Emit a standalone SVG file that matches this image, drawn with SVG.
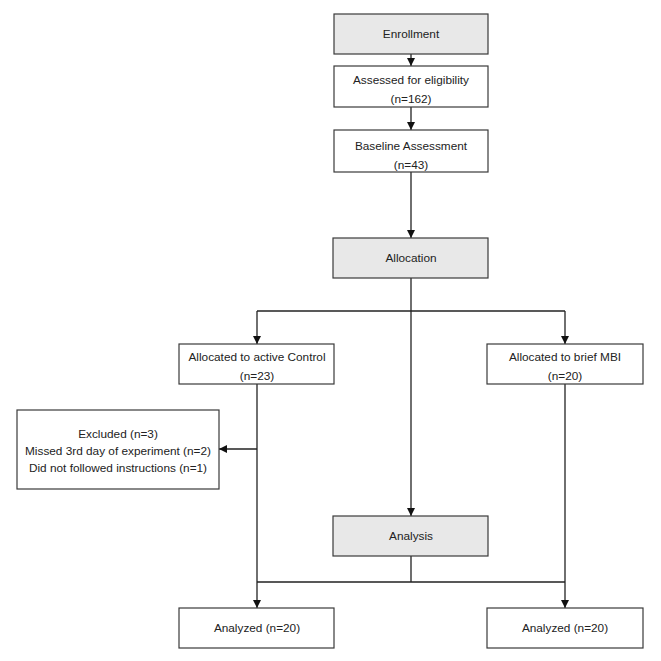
<svg xmlns="http://www.w3.org/2000/svg" width="661" height="661" viewBox="0 0 661 661">
<style>
.box{fill:#fff;stroke:#3a3a3a;stroke-width:1.2}
.g{fill:#e8e8e8}
text{font-family:"Liberation Sans",Arial,sans-serif;font-size:11.8px;fill:#222;text-anchor:middle}
.c{stroke:#222;stroke-width:1.3;fill:none}
</style>
<defs>
<marker id="a" viewBox="0 0 10 10" refX="10" refY="5" markerWidth="8" markerHeight="8" markerUnits="userSpaceOnUse" orient="auto"><path d="M0,0L10,5L0,10z" fill="#111"/></marker>
</defs>
<rect width="661" height="661" fill="#fff"/>
<g id="connectors">
<path class="c" d="M411,54V66" marker-end="url(#a)"/>
<path class="c" d="M411,107V130" marker-end="url(#a)"/>
<path class="c" d="M411,172V238" marker-end="url(#a)"/>
<path class="c" d="M411,278V516" marker-end="url(#a)"/>
<path class="c" d="M257,311H565"/>
<path class="c" d="M257,311V344" marker-end="url(#a)"/>
<path class="c" d="M565,311V344" marker-end="url(#a)"/>
<path class="c" d="M257,384V608" marker-end="url(#a)"/>
<path class="c" d="M565,384V608" marker-end="url(#a)"/>
<path class="c" d="M257,449H219" marker-end="url(#a)"/>
<path class="c" d="M411,556V582M257,582H565"/>
</g>
<g id="enrollment"><rect class="box g" x="334" y="14" width="154" height="40"/><text x="411" y="38">Enrollment</text></g>
<g id="assessed"><rect class="box" x="334" y="66" width="154" height="41"/><text x="411" y="84">Assessed for eligibility</text><text x="411" y="103">(n=162)</text></g>
<g id="baseline"><rect class="box" x="334" y="130" width="154" height="42"/><text x="411" y="150">Baseline Assessment</text><text x="411" y="169">(n=43)</text></g>
<g id="allocation"><rect class="box g" x="333" y="238" width="155" height="40"/><text x="411" y="262">Allocation</text></g>
<g id="control"><rect class="box" x="179" y="344" width="155" height="40"/><text x="257" y="361">Allocated to active Control</text><text x="257" y="380">(n=23)</text></g>
<g id="mbi"><rect class="box" x="487" y="344" width="156" height="40"/><text x="565" y="361">Allocated to brief MBI</text><text x="565" y="380">(n=20)</text></g>
<g id="excluded"><rect class="box" x="17" y="410" width="202" height="79"/><text x="118" y="438">Excluded (n=3)</text><text x="118" y="455">Missed 3rd day of experiment (n=2)</text><text x="118" y="472">Did not followed instructions (n=1)</text></g>
<g id="analysis"><rect class="box g" x="333" y="516" width="155" height="40"/><text x="411" y="540">Analysis</text></g>
<g id="analyzed1"><rect class="box" x="179" y="608" width="155" height="40"/><text x="257" y="632">Analyzed (n=20)</text></g>
<g id="analyzed2"><rect class="box" x="487" y="608" width="156" height="40"/><text x="565" y="632">Analyzed (n=20)</text></g>
</svg>
